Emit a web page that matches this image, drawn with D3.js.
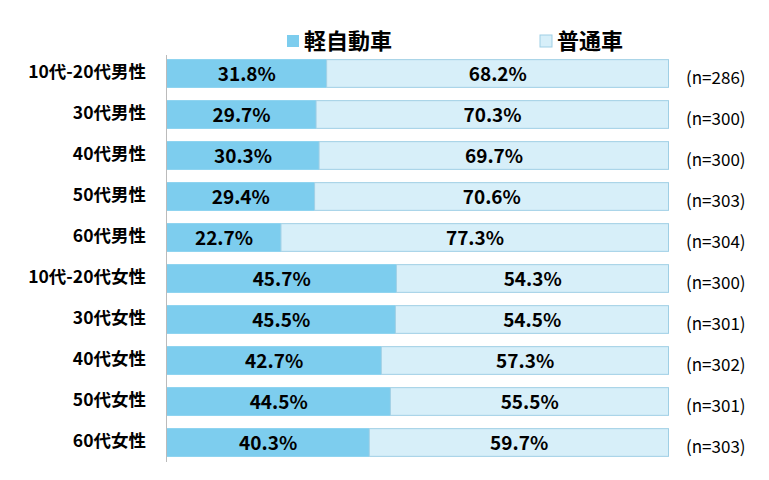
<!DOCTYPE html><html><head><meta charset="utf-8">
<script src="https://cdn.jsdelivr.net/npm/d3@7"></script>
<style>body{margin:0;background:#fff}</style></head><body>
<svg id="c" width="769" height="480"></svg>
<script>
const categories=["10代-20代男性","30代男性","40代男性","50代男性","60代男性","10代-20代女性","30代女性","40代女性","50代女性","60代女性"];
const kei=[31.8,29.7,30.3,29.4,22.7,45.7,45.5,42.7,44.5,40.3];
const futsu=[68.2,70.3,69.7,70.6,77.3,54.3,54.5,57.3,55.5,59.7];
const nLabels=["(n=286)","(n=300)","(n=300)","(n=303)","(n=304)","(n=300)","(n=301)","(n=302)","(n=301)","(n=303)"];
const seriesNames=["軽自動車","普通車"];
const colors=["#7dcdee","#d7eff9"];
const svg=d3.select("#c");
const font="'Noto Sans CJK JP','Noto Sans',sans-serif";
const x=d3.scaleLinear().domain([0,100]).range([167,669]);
const y=d3.scaleBand().domain(categories).range([53,463]).paddingInner(0.3).paddingOuter(0.15);
svg.append("line").attr("x1",166.5).attr("x2",166.5).attr("y1",55).attr("y2",462).attr("stroke","#bbb");
categories.forEach((c,i)=>{
  const g=svg.append("g");
  g.append("rect").attr("x",x(0)).attr("y",y(c)).attr("width",x(kei[i])-x(0)).attr("height",y.bandwidth()).attr("fill",colors[0]);
  g.append("rect").attr("x",x(kei[i])).attr("y",y(c)+0.5).attr("width",x(100)-x(kei[i])-0.5).attr("height",y.bandwidth()-1).attr("fill",colors[1]).attr("stroke","#9fcfe5");
  const cy=y(c)+y.bandwidth()/2;
  g.append("text").attr("x",(x(0)+x(kei[i]))/2).attr("y",cy+1).attr("dy","0.36em").attr("text-anchor","middle").attr("font-family",font).attr("font-weight","bold").attr("font-size",19).text(kei[i].toFixed(1)+"%");
  g.append("text").attr("x",(x(kei[i])+x(100))/2).attr("y",cy+1).attr("dy","0.36em").attr("text-anchor","middle").attr("font-family",font).attr("font-weight","bold").attr("font-size",19).text(futsu[i].toFixed(1)+"%");
  g.append("text").attr("x",146).attr("y",cy-2).attr("dy","0.36em").attr("text-anchor","end").attr("font-family",font).attr("font-weight","bold").attr("font-size",17.5).text(c);
  g.append("text").attr("x",686).attr("y",cy+4).attr("dy","0.36em").attr("font-family",font).attr("font-size",17).text(nLabels[i]);
});
const lx=[287,540];
seriesNames.forEach((s,i)=>{
  svg.append("rect").attr("x",lx[i]).attr("y",35).attr("width",12).attr("height",12).attr("fill",colors[i]).attr("stroke",i?"#9fcfe5":"none");
  svg.append("text").attr("x",lx[i]+17).attr("y",41).attr("dy","0.36em").attr("font-family",font).attr("font-weight","bold").attr("font-size",22).text(s);
});
</script></body></html>
